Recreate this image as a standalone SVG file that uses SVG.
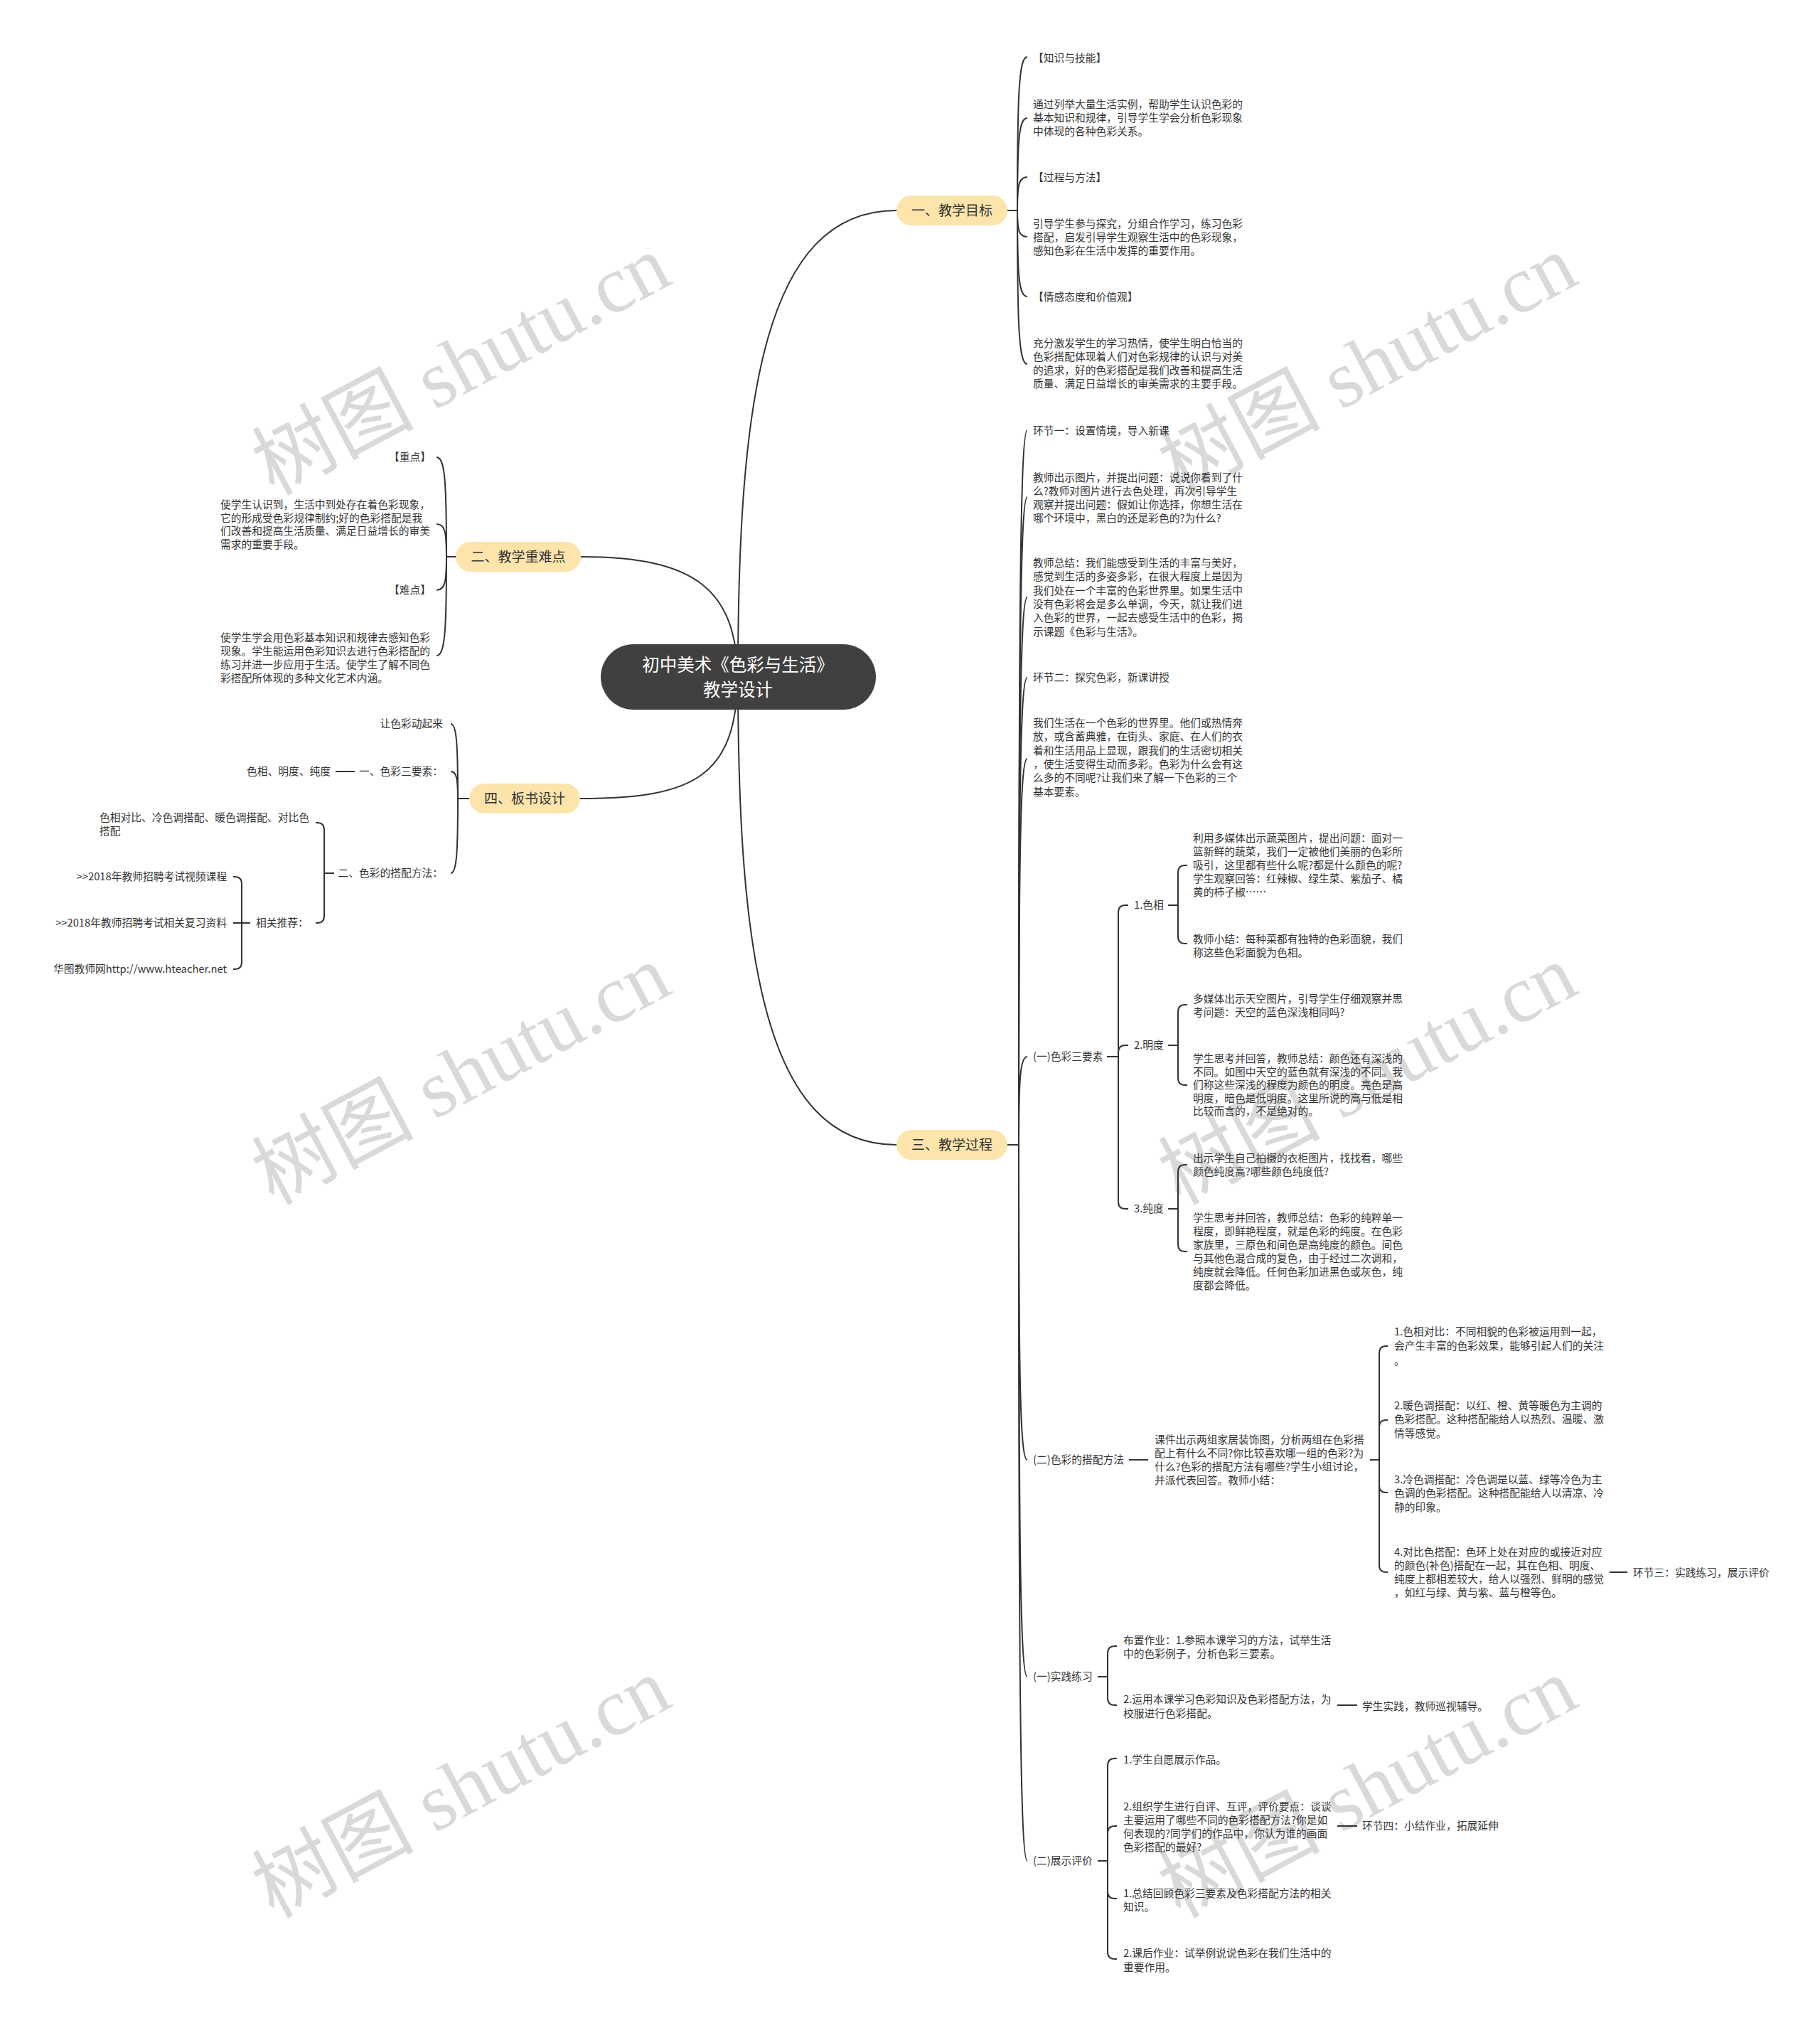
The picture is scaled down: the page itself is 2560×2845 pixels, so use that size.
<svg xmlns="http://www.w3.org/2000/svg" width="2560" height="2845" viewBox="0 0 2560 2845">
<style>
.t{font-family:"Noto Sans CJK SC","Noto Sans",sans-serif;font-size:14.75px;fill:#333}
.e{text-anchor:end}
.br{font-family:"Noto Sans CJK SC","Noto Sans",sans-serif;font-size:19px;fill:#333;text-anchor:middle}
.root{font-family:"Noto Sans CJK SC","Noto Sans",sans-serif;font-size:24.5px;fill:#fff;text-anchor:middle}
.c{fill:none;stroke:#333;stroke-width:2}
.bn{fill:#fce4ab}
.wm{font-family:"Liberation Serif","Noto Sans CJK SC",serif;font-size:114px;fill:#d9d9d9;text-anchor:middle}
</style>
<rect width="2560" height="2845" fill="#fff"/>
<g id="watermarks">
<text class="wm" transform="translate(648 512) rotate(-28)" x="0" y="40">树图 shutu.cn</text>
<text class="wm" transform="translate(1923 512) rotate(-28)" x="0" y="40">树图 shutu.cn</text>
<text class="wm" transform="translate(648 1510) rotate(-28)" x="0" y="40">树图 shutu.cn</text>
<text class="wm" transform="translate(1923 1510) rotate(-28)" x="0" y="40">树图 shutu.cn</text>
<text class="wm" transform="translate(648 2513) rotate(-28)" x="0" y="40">树图 shutu.cn</text>
<text class="wm" transform="translate(1923 2513) rotate(-28)" x="0" y="40">树图 shutu.cn</text>
</g>
<g id="connectors">
<path class="c" d="M1038 952 C1038 560 1075 296 1261 296"/>
<path class="c" d="M1038 952 C1038 1344 1075 1610 1261 1610"/>
<path class="c" d="M1038 952 C1035 830 980 783 817 783"/>
<path class="c" d="M1038 952 C1035 1090 980 1123 816 1123"/>
<path class="c" d="M1417 296 H1431 M1417 1610 H1433 M641 783 H628 M660 1123 H644"/>
<path class="c" d="M1431 296 C1431 134 1433 80 1445 80"/>
<path class="c" d="M1431 296 C1431 198.5 1433 166 1445 166"/>
<path class="c" d="M1431 296 C1431 260.75 1433 249 1445 249"/>
<path class="c" d="M1431 296 C1431 323.75 1433 333 1445 333"/>
<path class="c" d="M1431 296 C1431 386.75 1433 417 1445 417"/>
<path class="c" d="M1431 296 C1431 458 1433 512 1445 512"/>
<path class="c" d="M1433 1610 C1433 856 1435 605 1445 605"/>
<path class="c" d="M1433 1610 C1433 927 1435 699 1445 699"/>
<path class="c" d="M1433 1610 C1433 1032 1435 840 1445 840"/>
<path class="c" d="M1433 1610 C1433 1117 1435 953 1445 953"/>
<path class="c" d="M1433 1610 C1433 1203 1435 1067 1445 1067"/>
<path class="c" d="M1433 1610 C1433 1517 1435 1486 1445 1486"/>
<path class="c" d="M1433 1610 C1433 1942 1435 2053 1445 2053"/>
<path class="c" d="M1433 1610 C1433 2171 1435 2358 1445 2358"/>
<path class="c" d="M1433 1610 C1433 2365 1435 2617 1445 2617"/>
<path class="c" d="M628 783 C628 678 626 643 614 643"/>
<path class="c" d="M628 783 C628 748.5 626 737 614 737"/>
<path class="c" d="M628 783 C628 818 626 830 614 830"/>
<path class="c" d="M628 783 C628 887 626 922 614 922"/>
<path class="c" d="M644 1123 C644 1044 642 1018 634 1018"/>
<path class="c" d="M644 1123 C644 1094.5 642 1085 634 1085"/>
<path class="c" d="M644 1123 C644 1202 642 1228 634 1228"/>
<path class="c" d="M1557 1486 H1573 M1573 1486 V1283 Q1573 1273 1583 1273 H1587 M1573 1486 V1480 Q1573 1470 1583 1470 H1587 M1573 1486 V1690 Q1573 1700 1583 1700 H1587"/>
<path class="c" d="M1643 1273 H1657 M1657 1273 V1227 Q1657 1217 1667 1217 H1670 M1657 1273 V1317 Q1657 1327 1667 1327 H1670"/>
<path class="c" d="M1643 1470 H1657 M1657 1470 V1423 Q1657 1413 1667 1413 H1670 M1657 1470 V1516 Q1657 1526 1667 1526 H1670"/>
<path class="c" d="M1643 1700 H1657 M1657 1700 V1648 Q1657 1638 1667 1638 H1670 M1657 1700 V1750 Q1657 1760 1667 1760 H1670"/>
<path class="c" d="M1588 2053 H1615 M1927 2053 H1940 M1940 2053 V1903 Q1940 1893 1950 1893 H1952 M1940 2053 V2007 Q1940 1997 1950 1997 H1952 M1940 2053 V2089 Q1940 2099 1950 2099 H1952 M1940 2053 V2201 Q1940 2211 1950 2211 H1952"/>
<path class="c" d="M2264 2211 H2289"/>
<path class="c" d="M1544 2358 H1558 M1558 2358 V2325 Q1558 2315 1568 2315 H1571 M1558 2358 V2388 Q1558 2398 1568 2398 H1571"/>
<path class="c" d="M1881 2398 H1909"/>
<path class="c" d="M1544 2617 H1558 M1558 2617 V2483 Q1558 2473 1568 2473 H1571 M1558 2617 V2578 Q1558 2568 1568 2568 H1571 M1558 2617 V2660 Q1558 2670 1568 2670 H1571 M1558 2617 V2745 Q1558 2755 1568 2755 H1571"/>
<path class="c" d="M1881 2568 H1909"/>
<path class="c" d="M499 1085 H472"/>
<path class="c" d="M470 1228 H456 M456 1228 V1167 Q456 1157 446 1157 H444 M456 1228 V1288 Q456 1298 446 1298 H444"/>
<path class="c" d="M352 1298 H328 M340 1298 V1243 Q340 1233 330 1233 H328 M340 1298 V1353 Q340 1363 330 1363 H328"/>
</g>
<g id="root">
<rect x="845" y="906" width="387" height="92" rx="46" fill="#404040"/>
<text class="root" x="1038" y="944">初中美术《色彩与生活》</text>
<text class="root" x="1038" y="979">教学设计</text>
</g>
<g id="b1">
<rect class="bn" x="1261" y="275" width="156" height="42" rx="21"/>
<text class="br" x="1339" y="303">一、教学目标</text>
</g>
<g id="b3">
<rect class="bn" x="1261" y="1589" width="156" height="42" rx="21"/>
<text class="br" x="1339" y="1617">三、教学过程</text>
</g>
<g id="b2">
<rect class="bn" x="641" y="762" width="176" height="42" rx="21"/>
<text class="br" x="729" y="790">二、教学重难点</text>
</g>
<g id="b4">
<rect class="bn" x="660" y="1102" width="156" height="42" rx="21"/>
<text class="br" x="738" y="1130">四、板书设计</text>
</g>
<g id="b1-children">
<g id="n1a"><text class="t" x="1453" y="87">【知识与技能】</text></g>
<g id="n1b"><text class="t" x="1453" y="152"><tspan x="1453">通过列举大量生活实例，帮助学生认识色彩的</tspan><tspan x="1453" dy="19">基本知识和规律，引导学生学会分析色彩现象</tspan><tspan x="1453" dy="19">中体现的各种色彩关系。</tspan></text></g>
<g id="n1c"><text class="t" x="1453" y="255">【过程与方法】</text></g>
<g id="n1d"><text class="t" x="1453" y="320"><tspan x="1453">引导学生参与探究，分组合作学习，练习色彩</tspan><tspan x="1453" dy="19">搭配，启发引导学生观察生活中的色彩现象，</tspan><tspan x="1453" dy="19">感知色彩在生活中发挥的重要作用。</tspan></text></g>
<g id="n1e"><text class="t" x="1453" y="423">【情感态度和价值观】</text></g>
<g id="n1f"><text class="t" x="1453" y="488"><tspan x="1453">充分激发学生的学习热情，使学生明白恰当的</tspan><tspan x="1453" dy="19">色彩搭配体现着人们对色彩规律的认识与对美</tspan><tspan x="1453" dy="19">的追求，好的色彩搭配是我们改善和提高生活</tspan><tspan x="1453" dy="19">质量、满足日益增长的审美需求的主要手段。</tspan></text></g>
</g>
<g id="b3-children">
<g id="n3a"><text class="t" x="1453" y="611">环节一：设置情境，导入新课</text></g>
<g id="n3b"><text class="t" x="1453" y="677"><tspan x="1453">教师出示图片，并提出问题：说说你看到了什</tspan><tspan x="1453" dy="19">么?教师对图片进行去色处理，再次引导学生</tspan><tspan x="1453" dy="19">观察并提出问题：假如让你选择，你想生活在</tspan><tspan x="1453" dy="19">哪个环境中，黑白的还是彩色的?为什么?</tspan></text></g>
<g id="n3c"><text class="t" x="1453" y="797"><tspan x="1453">教师总结：我们能感受到生活的丰富与美好，</tspan><tspan x="1453" dy="19.3">感觉到生活的多姿多彩，在很大程度上是因为</tspan><tspan x="1453" dy="19.3">我们处在一个丰富的色彩世界里。如果生活中</tspan><tspan x="1453" dy="19.3">没有色彩将会是多么单调，今天，就让我们进</tspan><tspan x="1453" dy="19.3">入色彩的世界，一起去感受生活中的色彩，揭</tspan><tspan x="1453" dy="19.3">示课题《色彩与生活》。</tspan></text></g>
<g id="n3d"><text class="t" x="1453" y="958">环节二：探究色彩，新课讲授</text></g>
<g id="n3e"><text class="t" x="1453" y="1022"><tspan x="1453">我们生活在一个色彩的世界里。他们或热情奔</tspan><tspan x="1453" dy="19.3">放，或含蓄典雅，在街头、家庭、在人们的衣</tspan><tspan x="1453" dy="19.3">着和生活用品上显现，跟我们的生活密切相关</tspan><tspan x="1453" dy="19.3">，使生活变得生动而多彩。色彩为什么会有这</tspan><tspan x="1453" dy="19.3">么多的不同呢?让我们来了解一下色彩的三个</tspan><tspan x="1453" dy="19.3">基本要素。</tspan></text></g>
<g id="n3f"><text class="t" x="1453" y="1491">(一)色彩三要素</text></g>
<g id="n3f1"><text class="t" x="1595" y="1278">1.色相</text></g>
<g id="n3f1a"><text class="t" x="1678" y="1184"><tspan x="1678">利用多媒体出示蔬菜图片，提出问题：面对一</tspan><tspan x="1678" dy="19">篮新鲜的蔬菜，我们一定被他们美丽的色彩所</tspan><tspan x="1678" dy="19">吸引，这里都有些什么呢?都是什么颜色的呢?</tspan><tspan x="1678" dy="19">学生观察回答：红辣椒、绿生菜、紫茄子、橘</tspan><tspan x="1678" dy="19">黄的柿子椒……</tspan></text></g>
<g id="n3f1b"><text class="t" x="1678" y="1326"><tspan x="1678">教师小结：每种菜都有独特的色彩面貌，我们</tspan><tspan x="1678" dy="19">称这些色彩面貌为色相。</tspan></text></g>
<g id="n3f2"><text class="t" x="1595" y="1475">2.明度</text></g>
<g id="n3f2a"><text class="t" x="1678" y="1410"><tspan x="1678">多媒体出示天空图片，引导学生仔细观察并思</tspan><tspan x="1678" dy="19">考问题：天空的蓝色深浅相同吗?</tspan></text></g>
<g id="n3f2b"><text class="t" x="1678" y="1494"><tspan x="1678">学生思考并回答，教师总结：颜色还有深浅的</tspan><tspan x="1678" dy="18.6">不同。如图中天空的蓝色就有深浅的不同。我</tspan><tspan x="1678" dy="18.6">们称这些深浅的程度为颜色的明度。亮色是高</tspan><tspan x="1678" dy="18.6">明度，暗色是低明度。这里所说的高与低是相</tspan><tspan x="1678" dy="18.6">比较而言的，不是绝对的。</tspan></text></g>
<g id="n3f3"><text class="t" x="1595" y="1705">3.纯度</text></g>
<g id="n3f3a"><text class="t" x="1678" y="1634"><tspan x="1678">出示学生自己拍摄的衣柜图片，找找看，哪些</tspan><tspan x="1678" dy="19">颜色纯度高?哪些颜色纯度低?</tspan></text></g>
<g id="n3f3b"><text class="t" x="1678" y="1718"><tspan x="1678">学生思考并回答，教师总结：色彩的纯粹单一</tspan><tspan x="1678" dy="19">程度，即鲜艳程度，就是色彩的纯度。在色彩</tspan><tspan x="1678" dy="19">家族里，三原色和间色是高纯度的颜色。间色</tspan><tspan x="1678" dy="19">与其他色混合成的复色，由于经过二次调和，</tspan><tspan x="1678" dy="19">纯度就会降低。任何色彩加进黑色或灰色，纯</tspan><tspan x="1678" dy="19">度都会降低。</tspan></text></g>
<g id="n3g"><text class="t" x="1453" y="2058">(二)色彩的搭配方法</text></g>
<g id="n3g1"><text class="t" x="1624" y="2030"><tspan x="1624">课件出示两组家居装饰图，分析两组在色彩搭</tspan><tspan x="1624" dy="19">配上有什么不同?你比较喜欢哪一组的色彩?为</tspan><tspan x="1624" dy="19">什么?色彩的搭配方法有哪些?学生小组讨论，</tspan><tspan x="1624" dy="19">并派代表回答。教师小结：</tspan></text></g>
<g id="n3g1a"><text class="t" x="1961" y="1878"><tspan x="1961">1.色相对比：不同相貌的色彩被运用到一起，</tspan><tspan x="1961" dy="20">会产生丰富的色彩效果，能够引起人们的关注</tspan><tspan x="1961" dy="21">。</tspan></text></g>
<g id="n3g1b"><text class="t" x="1961" y="1982"><tspan x="1961">2.暖色调搭配：以红、橙、黄等暖色为主调的</tspan><tspan x="1961" dy="19.4">色彩搭配。这种搭配能给人以热烈、温暖、激</tspan><tspan x="1961" dy="19.4">情等感觉。</tspan></text></g>
<g id="n3g1c"><text class="t" x="1961" y="2086"><tspan x="1961">3.冷色调搭配：冷色调是以蓝、绿等冷色为主</tspan><tspan x="1961" dy="19.4">色调的色彩搭配。这种搭配能给人以清凉、冷</tspan><tspan x="1961" dy="19.4">静的印象。</tspan></text></g>
<g id="n3g1d"><text class="t" x="1961" y="2188"><tspan x="1961">4.对比色搭配：色环上处在对应的或接近对应</tspan><tspan x="1961" dy="19">的颜色(补色)搭配在一起，其在色相、明度、</tspan><tspan x="1961" dy="19">纯度上都相差较大，给人以强烈、鲜明的感觉</tspan><tspan x="1961" dy="19">，如红与绿、黄与紫、蓝与橙等色。</tspan></text></g>
<g id="n3g1d1"><text class="t" x="2297" y="2217">环节三：实践练习，展示评价</text></g>
<g id="n3h"><text class="t" x="1453" y="2363">(一)实践练习</text></g>
<g id="n3h1"><text class="t" x="1580" y="2312"><tspan x="1580">布置作业：1.参照本课学习的方法，试举生活</tspan><tspan x="1580" dy="19.3">中的色彩例子，分析色彩三要素。</tspan></text></g>
<g id="n3h2"><text class="t" x="1580" y="2395"><tspan x="1580">2.运用本课学习色彩知识及色彩搭配方法，为</tspan><tspan x="1580" dy="19.6">校服进行色彩搭配。</tspan></text></g>
<g id="n3h2a"><text class="t" x="1916" y="2405">学生实践，教师巡视辅导。</text></g>
<g id="n3i"><text class="t" x="1453" y="2622">(二)展示评价</text></g>
<g id="n3i1"><text class="t" x="1580" y="2480">1.学生自愿展示作品。</text></g>
<g id="n3i2"><text class="t" x="1580" y="2546"><tspan x="1580">2.组织学生进行自评、互评，评价要点：谈谈</tspan><tspan x="1580" dy="18.9">主要运用了哪些不同的色彩搭配方法?你是如</tspan><tspan x="1580" dy="18.9">何表现的?同学们的作品中，你认为谁的画面</tspan><tspan x="1580" dy="18.9">色彩搭配的最好?</tspan></text></g>
<g id="n3i2a"><text class="t" x="1916" y="2573">环节四：小结作业，拓展延伸</text></g>
<g id="n3i3"><text class="t" x="1580" y="2668"><tspan x="1580">1.总结回顾色彩三要素及色彩搭配方法的相关</tspan><tspan x="1580" dy="19">知识。</tspan></text></g>
<g id="n3i4"><text class="t" x="1580" y="2752"><tspan x="1580">2.课后作业：试举例说说色彩在我们生活中的</tspan><tspan x="1580" dy="20">重要作用。</tspan></text></g>
</g>
<g id="b2-children">
<g id="n2a"><text class="t e" x="606" y="648">【重点】</text></g>
<g id="n2b"><text class="t" x="310" y="715"><tspan x="310">使学生认识到，生活中到处存在着色彩现象，</tspan><tspan x="310" dy="18.6">它的形成受色彩规律制约;好的色彩搭配是我</tspan><tspan x="310" dy="18.6">们改善和提高生活质量、满足日益增长的审美</tspan><tspan x="310" dy="18.6">需求的重要手段。</tspan></text></g>
<g id="n2c"><text class="t e" x="606" y="835">【难点】</text></g>
<g id="n2d"><text class="t" x="310" y="902"><tspan x="310">使学生学会用色彩基本知识和规律去感知色彩</tspan><tspan x="310" dy="18.9">现象。学生能运用色彩知识去进行色彩搭配的</tspan><tspan x="310" dy="18.9">练习并进一步应用于生活。使学生了解不同色</tspan><tspan x="310" dy="18.9">彩搭配所体现的多种文化艺术内涵。</tspan></text></g>
</g>
<g id="b4-children">
<g id="n4a"><text class="t e" x="623" y="1023">让色彩动起来</text></g>
<g id="n4b"><text class="t e" x="623" y="1090">一、色彩三要素：</text></g>
<g id="n4b1"><text class="t e" x="465" y="1090">色相、明度、纯度</text></g>
<g id="n4c"><text class="t e" x="623" y="1233">二、色彩的搭配方法：</text></g>
<g id="n4c1"><text class="t" x="140" y="1155"><tspan x="140">色相对比、冷色调搭配、暖色调搭配、对比色</tspan><tspan x="140" dy="18.5">搭配</tspan></text></g>
<g id="n4c2"><text class="t" x="360" y="1303">相关推荐：</text></g>
<g id="n4c2a"><text class="t e" x="319" y="1238">&gt;&gt;2018年教师招聘考试视频课程</text></g>
<g id="n4c2b"><text class="t e" x="319" y="1303">&gt;&gt;2018年教师招聘考试相关复习资料</text></g>
<g id="n4c2c"><text class="t e" x="319" y="1368">华图教师网http://www.hteacher.net</text></g>
</g>
</svg>
